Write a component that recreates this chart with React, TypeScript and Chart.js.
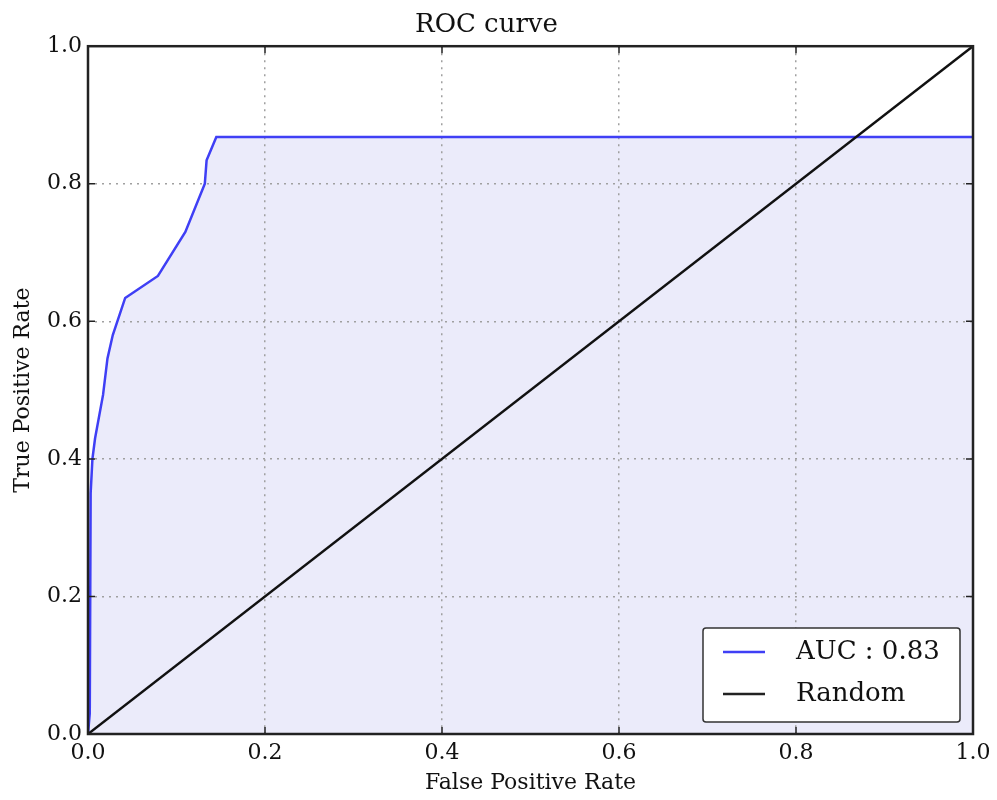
import React, { useEffect, useRef } from "react";
import { Chart, registerables } from "chart.js";

Chart.register(...registerables);

const FONT = "'DejaVu Serif', serif";

const rocFpr = [0.0, 0.002, 0.003, 0.005, 0.008, 0.017, 0.022, 0.028, 0.042, 0.079, 0.11, 0.132, 0.134, 0.145, 1.0];
const rocTpr = [0.0, 0.03, 0.35, 0.4, 0.43, 0.493, 0.546, 0.58, 0.634, 0.666, 0.73, 0.8, 0.834, 0.868, 0.868];
const randomFpr = [0.0, 1.0];
const randomTpr = [0.0, 1.0];
const tickValues = [0, 0.2, 0.4, 0.6, 0.8, 1.0];
const legendLabels = ["AUC : 0.83", "Random"];
const BLUE = "#3f3ff5";
const FILL = "#ebebfa";

const framePlugin = {
  id: "frame",
  afterDatasetsDraw(chart: any) {
    const { ctx, chartArea } = chart;
    const xs = chart.scales.x;
    const ys = chart.scales.y;
    ctx.save();
    ctx.strokeStyle = "#222";
    ctx.lineWidth = 1.5;
    const tl = 7;
    tickValues.forEach((v) => {
      const px = xs.getPixelForValue(v);
      const py = ys.getPixelForValue(v);
      ctx.beginPath();
      ctx.moveTo(px, chartArea.bottom);
      ctx.lineTo(px, chartArea.bottom - tl);
      ctx.moveTo(px, chartArea.top);
      ctx.lineTo(px, chartArea.top + tl);
      ctx.moveTo(chartArea.left, py);
      ctx.lineTo(chartArea.left + tl, py);
      ctx.moveTo(chartArea.right, py);
      ctx.lineTo(chartArea.right - tl, py);
      ctx.stroke();
    });
    ctx.lineWidth = 2.5;
    ctx.strokeRect(chartArea.left, chartArea.top, chartArea.right - chartArea.left, chartArea.bottom - chartArea.top);

    // legend box in lower right
    const w = 257;
    const h = 94;
    const bx = chartArea.right - 13 - w;
    const by = chartArea.bottom - 12 - h;
    ctx.fillStyle = "#fff";
    ctx.strokeStyle = "#333";
    ctx.lineWidth = 1.5;
    ctx.beginPath();
    (ctx as any).roundRect ? (ctx as any).roundRect(bx, by, w, h, 3) : ctx.rect(bx, by, w, h);
    ctx.fill();
    ctx.stroke();
    const colors = [BLUE, "#222"];
    ctx.font = `26px ${FONT}`;
    ctx.textBaseline = "middle";
    ctx.textAlign = "left";
    legendLabels.forEach((lab, i) => {
      const cy = by + 24 + i * 42;
      ctx.strokeStyle = colors[i];
      ctx.lineWidth = 2.5;
      ctx.beginPath();
      ctx.moveTo(bx + 20, cy);
      ctx.lineTo(bx + 62, cy);
      ctx.stroke();
      ctx.fillStyle = "#111";
      ctx.fillText(lab, bx + 93, cy);
    });
    ctx.restore();
  },
};

export default function App() {
  const ref = useRef<HTMLCanvasElement>(null);
  useEffect(() => {
    if (!ref.current) return;
    const chart = new Chart(ref.current, {
      type: "scatter",
      data: {
        datasets: [
          {
            label: legendLabels[0],
            data: rocFpr.map((x, i) => ({ x, y: rocTpr[i] })),
            showLine: true,
            borderColor: BLUE,
            borderWidth: 2.5,
            pointRadius: 0,
            fill: "origin",
            backgroundColor: FILL,
            order: 2,
          },
          {
            label: legendLabels[1],
            data: randomFpr.map((x, i) => ({ x, y: randomTpr[i] })),
            showLine: true,
            borderColor: "#111",
            borderWidth: 2.5,
            pointRadius: 0,
            fill: false,
            order: 1,
          },
        ],
      },
      options: {
        responsive: false,
        animation: false,
        layout: { padding: { left: 0, right: 24, top: 0, bottom: 0 } },
        plugins: {
          legend: { display: false },
          tooltip: { enabled: false },
          filler: { drawTime: "beforeDraw" },
          title: {
            display: true,
            text: "ROC curve",
            color: "#111",
            font: { family: FONT, size: 26, weight: "normal" },
            padding: { top: 10, bottom: 5 },
          },
        },
        scales: {
          x: {
            type: "linear",
            min: 0,
            max: 1,
            afterFit: (s: any) => {
              s.height = 66;
            },
            ticks: {
              stepSize: 0.2,
              color: "#111",
              padding: 6,
              font: { family: FONT, size: 22 },
              callback: (v: any) => Number(v).toFixed(1),
            },
            grid: { color: "#a0a0a0", lineWidth: 1.5, drawTicks: false },
            border: { display: false, dash: [2, 5] },
            title: {
              display: true,
              text: "False Positive Rate",
              color: "#111",
              font: { family: FONT, size: 22 },
              padding: { top: 0, bottom: 4 },
            },
          },
          y: {
            type: "linear",
            min: 0,
            max: 1,
            afterFit: (s: any) => {
              s.width = 88;
            },
            ticks: {
              stepSize: 0.2,
              color: "#111",
              padding: 6,
              font: { family: FONT, size: 22 },
              callback: (v: any) => Number(v).toFixed(1),
            },
            grid: { color: "#a0a0a0", lineWidth: 1.5, drawTicks: false },
            border: { display: false, dash: [2, 5] },
            title: {
              display: true,
              text: "True Positive Rate",
              color: "#111",
              font: { family: FONT, size: 22 },
              padding: { top: 10, bottom: 0 },
            },
          },
        },
      },
      plugins: [framePlugin],
    });
    return () => chart.destroy();
  }, []);
  return (
    <div style={{ position: "fixed", left: 0, top: 0, width: 997, height: 800, background: "#fff" }}>
      <canvas ref={ref} width={997} height={800} />
    </div>
  );
}
